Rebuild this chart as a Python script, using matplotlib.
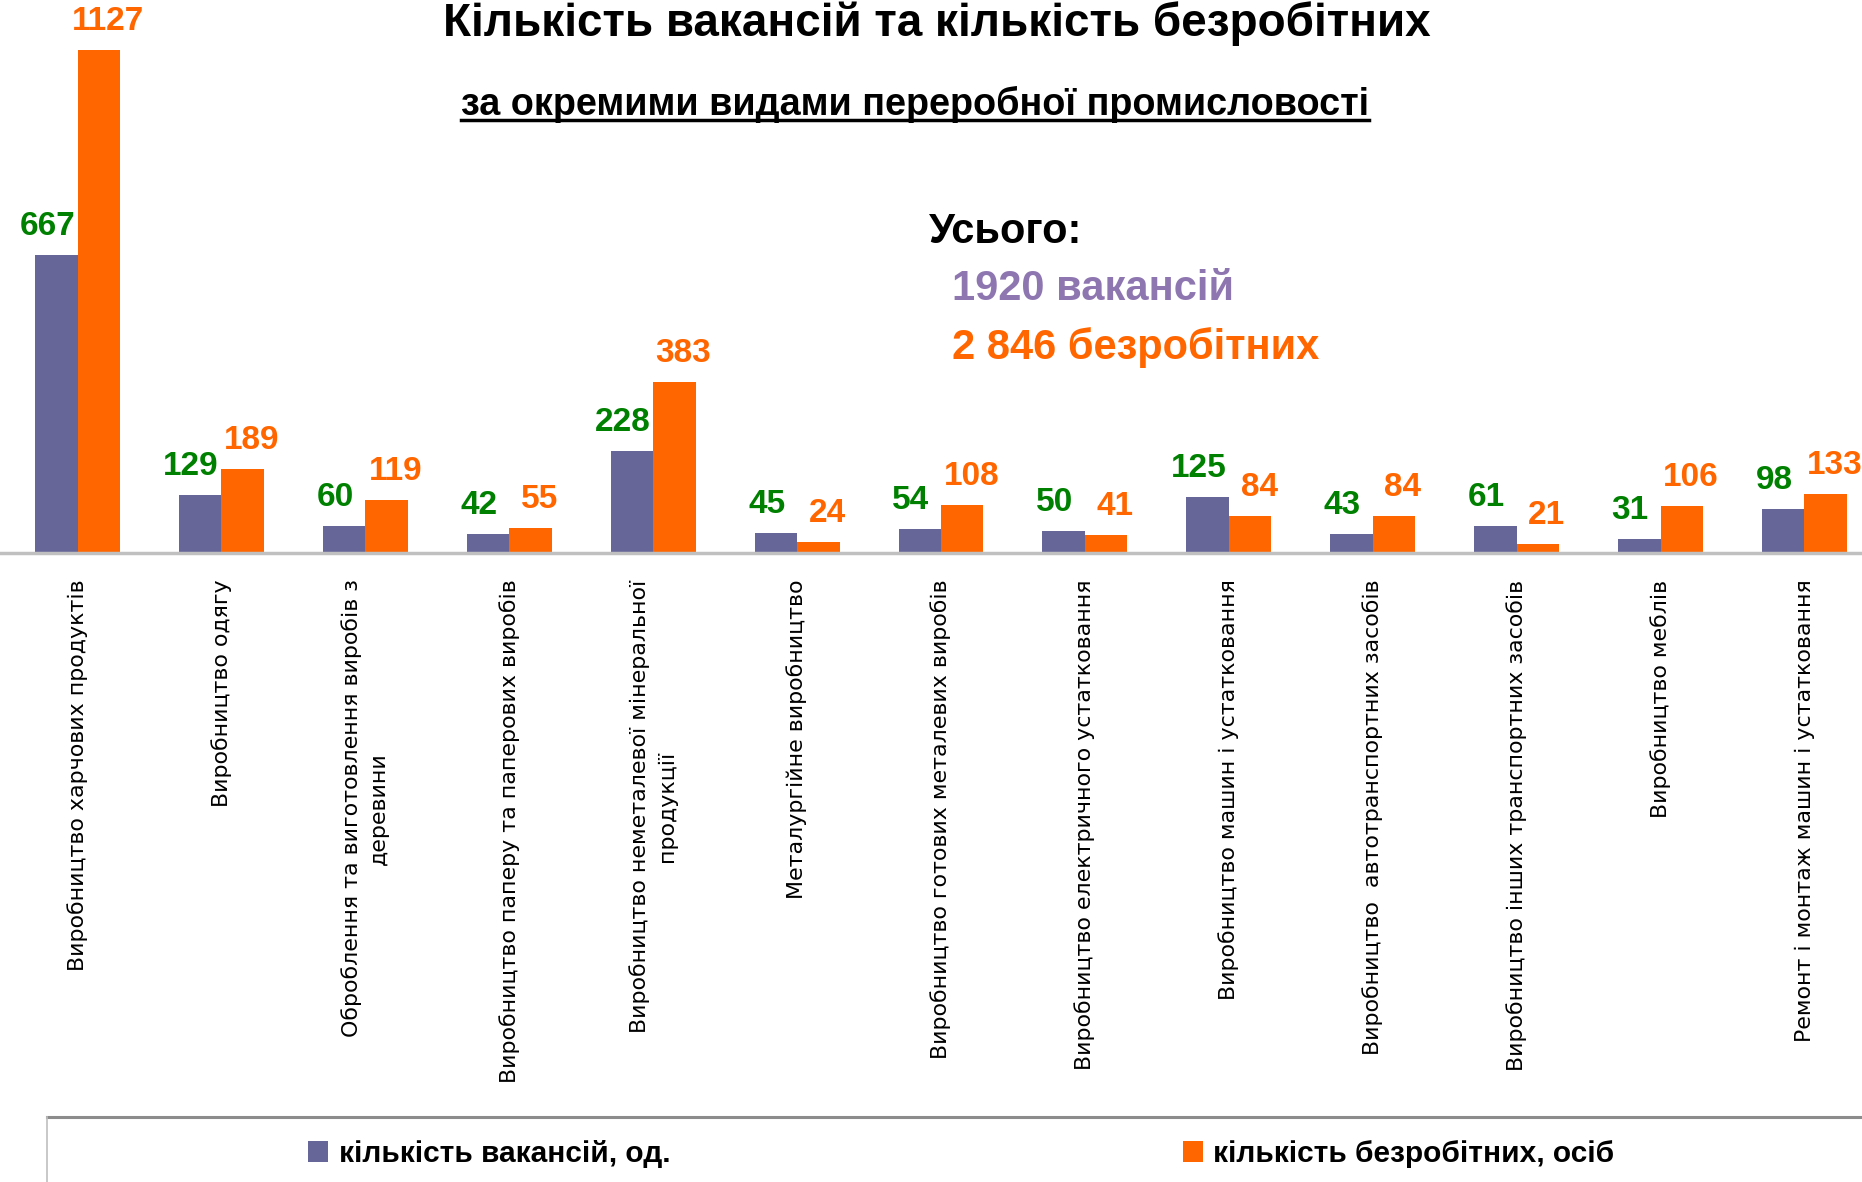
import matplotlib
matplotlib.use("Agg")
import matplotlib.pyplot as plt
from matplotlib.lines import Line2D
from matplotlib import font_manager as fm

categories = [
    "Виробництво харчових продуктів",
    "Виробництво одягу",
    "Оброблення та виготовлення виробів з\nдеревини",
    "Виробництво паперу та паперових виробів",
    "Виробництво неметалевої мінеральної\nпродукції",
    "Металургійне виробництво",
    "Виробництво готових металевих виробів",
    "Виробництво електричного устатковання",
    "Виробництво машин і устатковання",
    "Виробництво  автотранспортних засобів",
    "Виробництво інших транспортних засобів",
    "Виробництво меблів",
    "Ремонт і монтаж машин і устатковання",
]
vacancies = [667, 129, 60, 42, 228, 45, 54, 50, 125, 43, 61, 31, 98]
unemployed = [1127, 189, 119, 55, 383, 24, 108, 41, 84, 84, 21, 106, 133]
series_names = ["кількість вакансій, од.", "кількість безробітних, осіб"]
title = "Кількість вакансій та кількість безробітних"
subtitle = "за окремими видами переробної промисловості"
total_head = "Усього:"
total_vac = "1920 вакансій"
total_unemp = "2 846 безробітних"

PURPLE = "#666699"
ORANGE = "#FF6600"
GREEN = "#008000"
TOTAL_PURPLE = "#8E76B0"

avail = {f.name for f in fm.fontManager.ttflist}
NARROW = "Liberation Sans Narrow" if "Liberation Sans Narrow" in avail else "Liberation Sans"
WIDE = "Liberation Sans"

W, H = 1862, 1182
fig = plt.figure(figsize=(W / 100, H / 100), dpi=100)
fig.patch.set_facecolor("white")

base_px = 553
ax = fig.add_axes([0, (H - base_px) / H, 1, base_px / H])
x = list(range(len(categories)))
bw = 0.295
b1 = ax.bar([i - bw / 2 for i in x], vacancies, width=bw, color=PURPLE, label=series_names[0])
b2 = ax.bar([i + bw / 2 for i in x], unemployed, width=bw, color=ORANGE, label=series_names[1])
ax.set_xlim(-0.5386, 12.40)
ax.set_ylim(0, 1239)

for s in ["left", "right", "top"]:
    ax.spines[s].set_visible(False)
ax.spines["bottom"].set_color("#C0C0C0")
ax.spines["bottom"].set_linewidth(2.5)
ax.set_yticks([])
ax.set_xticks(x)
ax.set_xticklabels(categories, rotation=90, ha="center", va="top",
                   multialignment="center", fontsize=15.9,
                   family="DejaVu Sans", linespacing=1.42)
ax.tick_params(axis="x", length=0, pad=19)

for i, v in enumerate(vacancies):
    ax.annotate(str(v), (i - bw / 2, v), xytext=(-6.5, 20.5), textcoords="offset points",
                ha="center", va="center", fontsize=24, fontweight="bold",
                color=GREEN, family=NARROW)
for i, v in enumerate(unemployed):
    ax.annotate(str(v), (i + bw / 2, v), xytext=(6.5, 20.5), textcoords="offset points",
                ha="center", va="center", fontsize=24, fontweight="bold",
                color=ORANGE, family=NARROW)

fig.text(937 / W, 1 - 24 / H, title, ha="center", va="center",
         fontsize=33, fontweight="bold", family=NARROW)
sub = fig.text(915 / W, 1 - 104 / H, subtitle, ha="center", va="center",
               fontsize=27.2, fontweight="bold", family=NARROW)

fig.text(929 / W, 1 - 232 / H, total_head, ha="left", va="center",
         fontsize=30, fontweight="bold", family=WIDE, color="black")
fig.text(952 / W, 1 - 289 / H, total_vac, ha="left", va="center",
         fontsize=30, fontweight="bold", family=WIDE, color=TOTAL_PURPLE)
fig.text(952 / W, 1 - 348 / H, total_unemp, ha="left", va="center",
         fontsize=30, fontweight="bold", family=WIDE, color=ORANGE)

# legend box
fig.add_artist(Line2D([47 / W, 1.01], [1 - 1117 / H] * 2, transform=fig.transFigure,
                      color="#8C8C8C", lw=2.2))
fig.add_artist(Line2D([47 / W] * 2, [1 - 1117 / H, -0.01], transform=fig.transFigure,
                      color="#BFBFBF", lw=1.2))
fig.legend(handles=[b1, b2], labels=series_names, loc="center left",
           bbox_to_anchor=(308 / W, 1 - 1154 / H), ncol=2, frameon=False,
           prop={"family": NARROW, "weight": "bold", "size": 21.5},
           handlelength=0.68, handleheight=0.68, handletextpad=0.35,
           columnspacing=17.15, borderpad=0, borderaxespad=0)

fig.canvas.draw()
r = fig.canvas.get_renderer()
bb = sub.get_window_extent(r)
uy = 1 - 120 / H
fig.add_artist(Line2D([bb.x0 / W, bb.x1 / W], [uy, uy], transform=fig.transFigure,
                      color="black", lw=2.5))

fig.savefig("out.png", dpi=100, facecolor="white")
